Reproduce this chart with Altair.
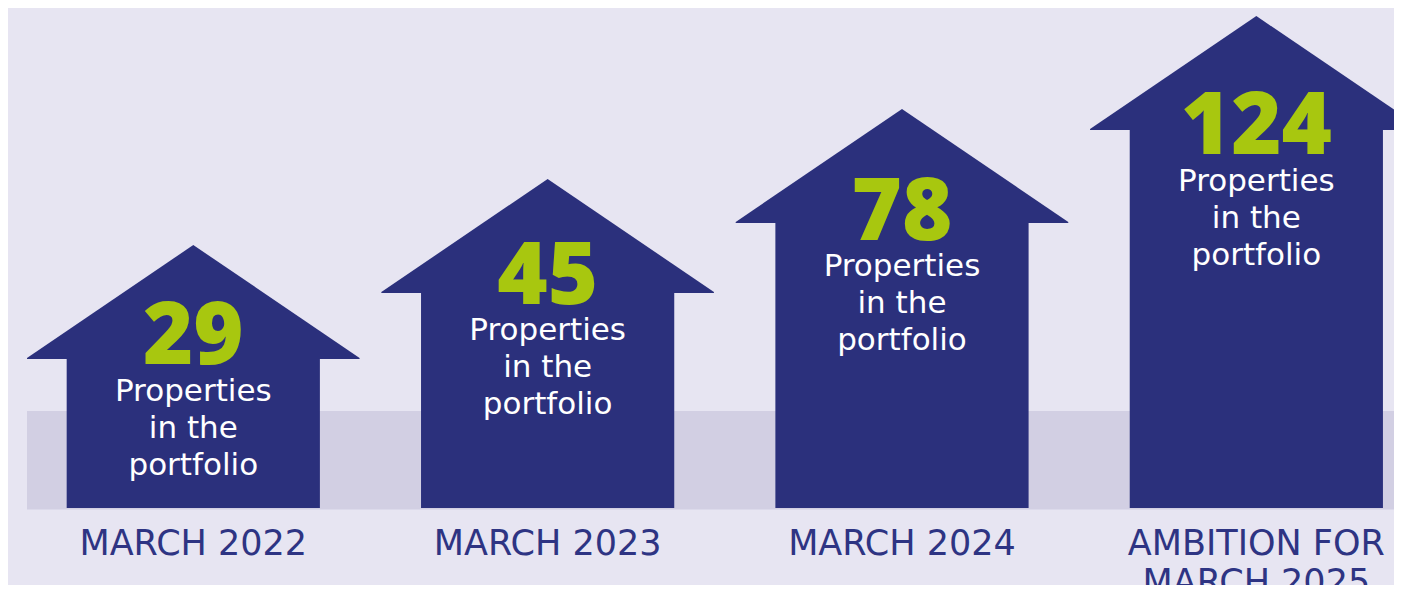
import altair as alt
import pandas as pd

# ---- data ----
categories = ["MARCH 2022", "MARCH 2023", "MARCH 2024", "AMBITION FOR\nMARCH 2025"]
values = [29, 45, 78, 124]
bar_heights = [150, 216, 286, 379]   # visual height of each house body (px units)
caption = "Properties\nin the\nportfolio"

# ---- styling / layout ----
NAVY = "#2b307c"
LABEL = "#2e3483"
GREEN = "#a8c70f"
BG = "#e7e5f2"
BAND = "#d2cfe3"
W, H = 1386, 577
X_DOM = [-0.5229, 3.3885]
Y_DOM = [-77, 500]
BODY_HW = 0.3573
ROOF_HW = 0.4693
ROOF_H = 113
BAND_TOP = 97

houses = pd.DataFrame({"idx": list(range(len(values))), "label": categories,
                       "value": values, "h": bar_heights})
houses["x0"] = houses["idx"] - BODY_HW
houses["x1"] = houses["idx"] + BODY_HW
houses["ground"] = 0
houses["num_y"] = houses["h"] * 0.917 + 6
houses["cap_y"] = houses["num_y"] - 36.5
houses["label_y"] = -47
houses["caption"] = caption

roof_rows = []
for i, h in zip(houses["idx"], houses["h"]):
    roof_rows.append({"idx": i, "x": i - ROOF_HW, "y": h, "y2": h - 1})
    roof_rows.append({"idx": i, "x": i, "y": h + ROOF_H, "y2": h - 1})
    roof_rows.append({"idx": i, "x": i + ROOF_HW, "y": h, "y2": h - 1})
roofs = pd.DataFrame(roof_rows)

band = pd.DataFrame({"x": [-ROOF_HW], "x2": [X_DOM[1] + 1], "y": [-1.5], "y2": [BAND_TOP]})

xs = alt.Scale(domain=X_DOM, nice=False, zero=False)
ys = alt.Scale(domain=Y_DOM, nice=False, zero=False)

band_layer = alt.Chart(band).mark_rect(color=BAND, clip=True).encode(
    x=alt.X("x:Q", scale=xs, axis=None), x2="x2:Q",
    y=alt.Y("y:Q", scale=ys, axis=None), y2="y2:Q")

body_layer = alt.Chart(houses).mark_rect(color=NAVY).encode(
    x=alt.X("x0:Q", scale=xs, axis=None), x2="x1:Q",
    y=alt.Y("ground:Q", scale=ys, axis=None), y2="h:Q")

roof_layer = alt.Chart(roofs).mark_area(color=NAVY, clip=True).encode(
    x=alt.X("x:Q", scale=xs, axis=None),
    y=alt.Y("y:Q", scale=ys, axis=None), y2="y2:Q",
    detail="idx:N")

num_layer = alt.Chart(houses).mark_text(
    font="Open Sans", fontWeight=800, fontSize=86, color=GREEN,
    align="center", baseline="alphabetic").encode(
    x=alt.X("idx:Q", scale=xs, axis=None),
    y=alt.Y("num_y:Q", scale=ys, axis=None),
    text="value:Q")

cap_layer = alt.Chart(houses).mark_text(
    font="DejaVu Sans", fontSize=31, color="white", align="center",
    baseline="alphabetic", lineBreak="\n", lineHeight=37).encode(
    x=alt.X("idx:Q", scale=xs, axis=None),
    y=alt.Y("cap_y:Q", scale=ys, axis=None),
    text="caption:N")

label_layer = alt.Chart(houses).mark_text(
    font="DejaVu Sans", fontSize=35, color=LABEL, align="center",
    baseline="alphabetic", lineBreak="\n", lineHeight=39).encode(
    x=alt.X("idx:Q", scale=xs, axis=None),
    y=alt.Y("label_y:Q", scale=ys, axis=None),
    text="label:N")

chart = alt.layer(band_layer, body_layer, roof_layer, num_layer, cap_layer, label_layer).properties(
    width=W, height=H, background=BG, padding=0,
    autosize=alt.AutoSizeParams(type="none")
).configure_view(stroke=None)

chart.save("out.html", embed_options={"renderer": "svg", "actions": False})
